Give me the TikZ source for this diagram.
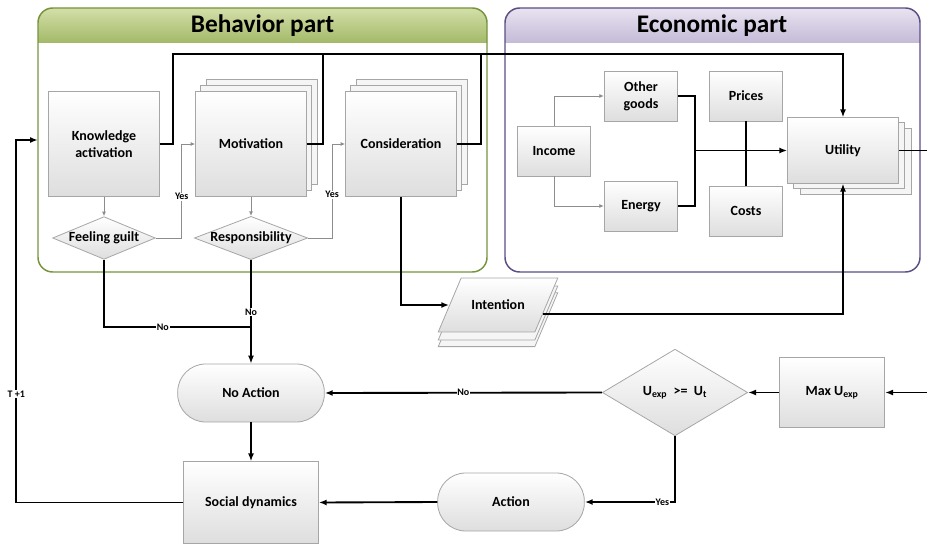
\documentclass[tikz,border=0pt]{standalone}
\usepackage{fontspec}
\setmainfont{Carlito}
\usetikzlibrary{arrows.meta,shapes.geometric,shadows,calc}
\definecolor{bframe}{HTML}{77933C}
\definecolor{btop}{HTML}{D3DFA9}
\definecolor{bbot}{HTML}{A3B968}
\definecolor{eframe}{HTML}{5C4D85}
\definecolor{etop}{HTML}{E8E3F0}
\definecolor{ebot}{HTML}{C4BAD7}
\definecolor{gline}{HTML}{A6A6A6}
\tikzset{
  >={Latex[length=6pt,width=4.5pt]},
  fbox/.style={rectangle, draw=gline, line width=0.6pt, top color=white,
               bottom color=black!13, align=center, inner sep=2pt,
               font=\bfseries\fontsize{10.5}{12.5}\selectfont},
  fbig/.style={fbox, minimum width=83pt, minimum height=79pt},
  fsmall/.style={fbox, minimum width=55pt, minimum height=37.5pt},
  fdiam/.style={fbox, diamond, aspect=2.6, inner sep=0pt},
  fterm/.style={fbox, rounded corners=21pt, minimum width=110pt, minimum height=43.5pt},
  fstackup/.style={
    copy shadow={shadow xshift=8.25pt, shadow yshift=9pt, fill=black!4, draw=gline},
    copy shadow={shadow xshift=3.75pt, shadow yshift=4.5pt, fill=black!4, draw=gline}},
  fstackdown/.style={
    copy shadow={shadow xshift=9.75pt, shadow yshift=-8.25pt, fill=black!4, draw=gline},
    copy shadow={shadow xshift=4.5pt, shadow yshift=-3.75pt, fill=black!4, draw=gline}},
  fstackflat/.style={
    copy shadow={shadow xshift=0pt, shadow yshift=-11pt, fill=black!4, draw=gline},
    copy shadow={shadow xshift=0pt, shadow yshift=-6pt, fill=black!4, draw=gline}},
  fflow/.style={->, line width=1.4pt},
  flink/.style={line width=1.4pt},
  fthin/.style={-{Latex[length=3.5pt,width=3pt]}, gline!85!black, line width=0.7pt},
  flbl/.style={fill=white, inner sep=0.6pt, text=black,
               font=\bfseries\fontsize{7.5}{8}\selectfont},
  ftitle/.style={font=\bfseries\fontsize{19}{22}\selectfont},
}

\begin{document}
\begin{tikzpicture}[x=0.75pt,y=-0.75pt]
  \useasboundingbox (0,0) rectangle (927,545);

  % the two parts
  \begin{scope}
    \clip[rounded corners=11pt] (38,8) rectangle (487,272);
    \shade[top color=btop, bottom color=bbot] (38,8) rectangle (487,43);
  \end{scope}
  \draw[bframe, line width=1.1pt, rounded corners=11pt] (38,8) rectangle (487,272);
  \node[ftitle] (btitle) at (262.5,26) {Behavior part};

  \begin{scope}
    \clip[rounded corners=11pt] (505,8) rectangle (920,272);
    \shade[top color=etop, bottom color=ebot] (505,8) rectangle (920,43);
  \end{scope}
  \draw[eframe, line width=1.1pt, rounded corners=11pt] (505,8) rectangle (920,272);
  \node[ftitle] (etitle) at (712,26) {Economic part};

  % behavior part
  \node[fbig] (know) at (104,144) {Knowledge\\activation};
  \node[fbig, fstackup] (mot) at (251,144) {Motivation};
  \node[fbig, fstackup] (cons) at (401,144) {Consideration};
  \node[fdiam, minimum width=77pt, minimum height=32pt] (guilt) at (104,238) {Feeling guilt};
  \node[fdiam, minimum width=85pt, minimum height=32pt] (resp) at (251,238) {Responsibility};

  % economic part
  \node[fsmall] (inc) at (554,151) {Income};
  \node[fsmall] (oth) at (641,96) {Other\\goods};
  \node[fsmall] (ene) at (641,206) {Energy};
  \node[fsmall] (pri) at (746,96) {Prices};
  \node[fsmall] (cos) at (746,211) {Costs};
  \node[fbox, fstackdown, minimum width=83pt, minimum height=49pt] (util) at (843,150.5) {Utility};

  % decision loop
  \node[fbox, trapezium, trapezium left angle=67, trapezium right angle=113,
        inner xsep=7.6pt, inner ysep=16.5pt, fstackflat] (int) at (498,305) {Intention};
  \node[fdiam, aspect=1.67, minimum width=109pt, minimum height=65pt] (dec) at (675,392.5)
       {U\textsubscript{exp}~~>=~~U\textsubscript{t}};
  \node[fbox, minimum width=79pt, minimum height=53pt] (max) at (832,392.5) {Max U\textsubscript{exp}};
  \node[fterm] (noact) at (251,393) {No Action};
  \node[fterm] (act) at (511,502) {Action};
  \node[fbox, minimum width=101pt, minimum height=61pt] (soc) at (251,502.5) {Social dynamics};

  \coordinate (bus) at (0,54);
  \coordinate (behin) at (38,140);
  \coordinate (nojoin) at (251,327);
  \coordinate (rout) at (927,150.5);
  \coordinate (rin) at (927,392.5);

  % thin links inside the parts
  \draw[fthin] (know.south) -- (guilt.north);
  \draw[fthin] (guilt.east) -- ++(26,0) |- node[flbl, pos=0.22] {Yes} (mot.west);
  \draw[fthin] (mot.south) -- (resp.north);
  \draw[fthin] (resp.east) -- ++(24,0) |- node[flbl, pos=0.23] {Yes} (cons.west);
  \draw[fthin] (inc.north) |- (oth.west);
  \draw[fthin] (inc.south) |- (ene.west);

  % bus to utility
  \draw[fflow] (know.east) -- ++(13,0) |- (util.north |- bus) -- (util.north);
  \draw[flink] (mot.east) -- ++(16,0) -- ++(0,-90);
  \draw[flink] (cons.east) -- ++(24,0) -- ++(0,-90);
  \draw[fflow] (oth.east) -- ++(17,0) |- (util.west);
  \draw[flink] (ene.east) -- ++(17,0) -- ++(0,-55.5);
  \draw[flink] (pri.south) -- (cos.north);
  \draw[fflow] (cons.south) |- (int.west);
  \draw[fflow] (int.-11) -| (util.south);
  \draw[flink] (util.east) -- (rout);

  % outcome
  \draw[fflow] (rin) -- (max.east);
  \draw[fflow] (max.west) -- (dec.east);
  \draw[fflow] (dec.west) -- node[flbl] {No} (noact.east);
  \draw[fflow] (dec.south) |- node[flbl, pos=0.57] {Yes} (act.east);
  \draw[flink] (guilt.south) |- node[flbl, pos=0.7] {No} (nojoin);
  \draw[fflow] (resp.south) -- node[flbl] {No} (noact.north);
  \draw[fflow] (noact.south) -- (soc.north);
  \draw[fflow] (act.west) -- (soc.east);
  \draw[fflow] (soc.west) -- ++(-167,0) |- node[flbl, pos=0.15] {T +1} (behin);

\end{tikzpicture}
\end{document}
